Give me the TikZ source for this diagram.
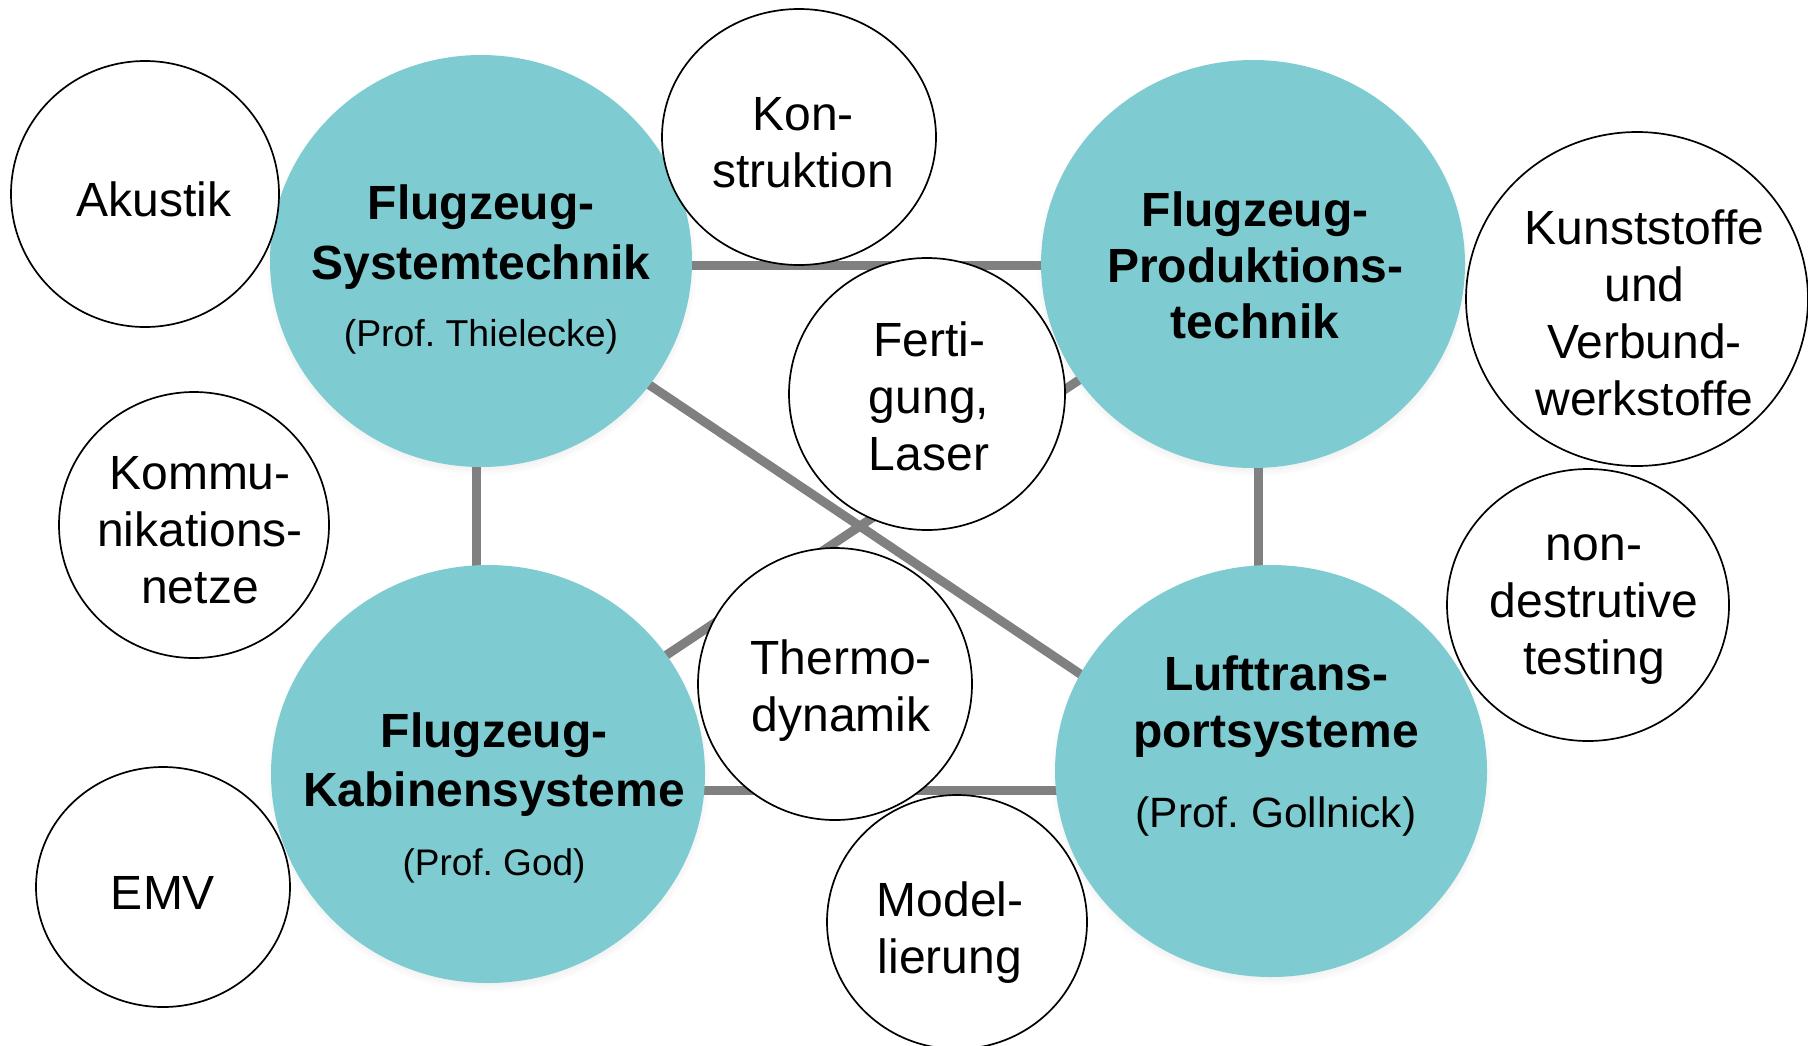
\documentclass[tikz,border=0pt]{standalone}
\usepackage{fontspec}
\setmainfont{Liberation Sans}
\usetikzlibrary{shapes.geometric,shadows,backgrounds}
\definecolor{tealfill}{RGB}{126,204,209}
\definecolor{linegray}{RGB}{128,128,128}
\newcommand\subfont[1]{\fontsize{#1}{24}\selectfont\mdseries}
\frenchspacing
\begin{document}
\begin{tikzpicture}[x=0.5pt,y=-0.5pt,
  big/.style={ellipse, fill=tealfill, inner sep=0pt,
    circular drop shadow={shadow xshift=0pt, shadow yshift=-2pt, opacity=0.35, shadow scale=1.02}},
  small/.style={ellipse, draw=black, line width=0.85pt, fill=white, inner sep=0pt},
  smalltext/.style={align=center, inner sep=0pt, font=\fontsize{24}{28.5}\selectfont},
  title/.style={align=center, anchor=base, font=\fontsize{24}{#1}\selectfont\bfseries},
  link/.style={draw=linegray, line width=4.5pt}]
\useasboundingbox (0,0) rectangle (1808,1045);

% big circles
\node[big, minimum width=211pt, minimum height=206pt] (FS) at (481,261) {};
\node[big, minimum width=212pt, minimum height=204pt] (FP) at (1253,264) {};
\node[big, minimum width=217pt, minimum height=209pt] (FK) at (488,774) {};
\node[big, minimum width=216pt, minimum height=206pt] (LT) at (1271,771) {};

% titles (anchor = baseline of the last line)
\node[title=30pt] (FSt) at (481,346) {Flugzeug-\\Systemtechnik\\[3.5pt]{\subfont{18.7}(Prof. Thielecke)}};
\node[title=28pt] (FPt) at (1255,338) {Flugzeug-\\Produktions-\\technik};
\node[title=29.5pt] (FKt) at (494,875) {Flugzeug-\\Kabinensysteme\\[5pt]{\subfont{18.5}(Prof. God)}};
\node[title=28.75pt] (LTt) at (1276,827) {Lufttrans-\\portsysteme\\[11pt]{\subfont{21.2}(Prof. Gollnick)}};

% small circles
\node[small, minimum width=134pt, minimum height=133pt] (ak) at (145,194) {};
\node[small, minimum width=137pt, minimum height=128pt] (ko) at (799,137) {};
\node[small, minimum width=135pt, minimum height=133pt] (kn) at (194,525) {};
\node[small, minimum width=127pt, minimum height=120pt] (emv) at (163,887) {};
\node[small, minimum width=138pt, minimum height=136pt] (fe) at (927,394) {};
\node[small, minimum width=137pt, minimum height=136pt] (th) at (835,684) {};
\node[small, minimum width=130pt, minimum height=127pt] (mo) at (957,922) {};
\node[small, minimum width=171pt, minimum height=167pt] (ku) at (1637,299) {};
\node[small, minimum width=141pt, minimum height=136pt] (nd) at (1588,605) {};

\node[smalltext] (akt) at ([shift={(9,5)}]ak.center) {Akustik};
\node[smalltext] (kot) at ([shift={(4,6)}]ko.center) {Kon-\\struktion};
\node[smalltext] (knt) at ([shift={(6,5)}]kn.center) {Kommu-\\nikations-\\netze};
\node[smalltext] (emvt) at ([shift={(0,6)}]emv.center) {EMV};
\node[smalltext] (fet) at ([shift={(2,2)}]fe.center) {Ferti-\\gung,\\Laser};
\node[smalltext] (tht) at ([shift={(6,7)}]th.center) {Thermo-\\dynamik};
\node[smalltext] (mot) at ([shift={(-7,11)}]mo.center) {Model-\\lierung};
\node[smalltext] (kut) at ([shift={(7.5,14)}]ku.center) {Kunststoffe\\und\\Verbund-\\werkstoffe};
\node[smalltext] (ndt) at ([shift={(6,5)}]nd.center) {non-\\destrutive\\testing};

% connectors
\begin{scope}[on background layer]
\fill[white] (0,0) rectangle (1808,1045);
\draw[link] ([yshift=-2pt]FS.center) -- ([yshift=-2pt]FS.center -| FP.center);
\draw[link] ([xshift=-2.5pt]FS.center) -- ([xshift=-2.5pt]FS.center |- FK.center);
\draw[link] ([xshift=2.5pt]FP.center) -- ([xshift=2.5pt]FP.center |- LT.center);
\draw[link] ([yshift=-8pt]FK.center) -- ([yshift=-8pt]FK.center -| LT.center);
\draw[link] (FK.center) -- (FP.center);
\draw[link] ([yshift=-5.5pt]FS.center) -- ([yshift=-15.5pt]LT.center);
\end{scope}
\end{tikzpicture}
\end{document}
